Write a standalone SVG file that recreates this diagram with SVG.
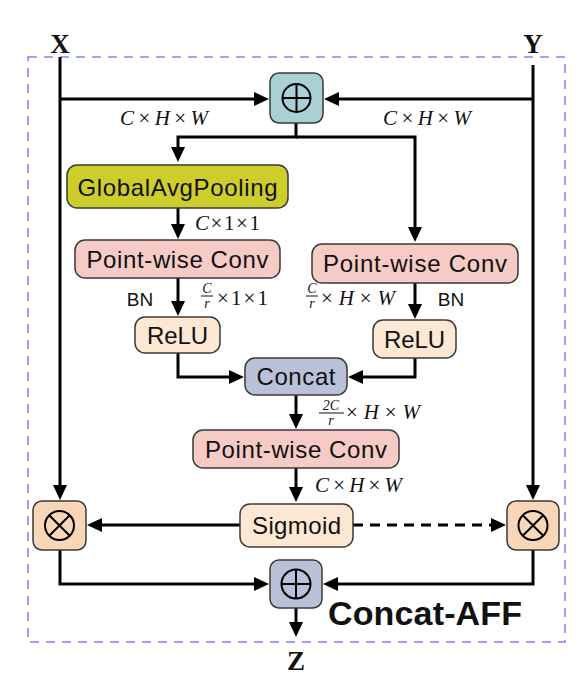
<svg xmlns="http://www.w3.org/2000/svg" width="586" height="691" viewBox="0 0 586 691">
<style>
.box{stroke:#3a3a3a;stroke-width:1.5}
.lbl{font-family:"Liberation Sans",Arial,sans-serif;font-size:24px;fill:#111;text-anchor:middle;dominant-baseline:central}
.bn{font-family:"Liberation Sans",Arial,sans-serif;font-size:19px;fill:#111;text-anchor:middle;dominant-baseline:central}
.math{font-family:"Liberation Serif","Times New Roman",serif;font-size:21px;fill:#111}
.mi{font-style:italic}
.frac{font-family:"Liberation Serif","Times New Roman",serif;font-size:14px;font-style:italic;fill:#111;text-anchor:middle}
.var{font-family:"Liberation Serif","Times New Roman",serif;font-weight:bold;font-size:27px;fill:#111;text-anchor:middle}
.con{fill:none;stroke:#000;stroke-width:3}
.sym{fill:none;stroke:#000;stroke-width:2}
</style>
<defs>
<marker id="ah" markerUnits="userSpaceOnUse" markerWidth="16" markerHeight="16" refX="1" refY="7" orient="auto">
<path d="M0,0 L15,7 L0,14 Z" fill="#000"/>
</marker>
</defs>

<rect x="28" y="57" width="537" height="585" fill="none" stroke="#8080ff" stroke-width="1.5" stroke-dasharray="9,7"/>

<g id="connectors">
<path class="con" d="M60,57 V486" marker-end="url(#ah)"/>
<path class="con" d="M533,65 V486" marker-end="url(#ah)"/>
<path class="con" d="M60,99 H255" marker-end="url(#ah)"/>
<path class="con" d="M533,99 H338" marker-end="url(#ah)"/>
<path class="con" d="M296,123 V137 H178 V148" marker-end="url(#ah)"/>
<path class="con" d="M296,137 H415 V228" marker-end="url(#ah)"/>
<path class="con" d="M178,208 V225" marker-end="url(#ah)"/>
<path class="con" d="M178,278 V302" marker-end="url(#ah)"/>
<path class="con" d="M178,353 V377 H230" marker-end="url(#ah)"/>
<path class="con" d="M415,283 V305" marker-end="url(#ah)"/>
<path class="con" d="M415,358 V377 H362" marker-end="url(#ah)"/>
<path class="con" d="M296,395 V415" marker-end="url(#ah)"/>
<path class="con" d="M296,468 V488" marker-end="url(#ah)"/>
<path class="con" d="M240,525 H101" marker-end="url(#ah)"/>
<path class="con" d="M353,525 H492" stroke-dasharray="10,7" marker-end="url(#ah)"/>
<path class="con" d="M60,550 V584 H255" marker-end="url(#ah)"/>
<path class="con" d="M533,550 V584 H337" marker-end="url(#ah)"/>
<path class="con" d="M296,608 V623" marker-end="url(#ah)"/>
</g>

<g id="labels">
<text class="var" x="60" y="53">X</text>
<text class="var" x="533" y="53">Y</text>
<text class="var" x="296" y="670">Z</text>
<text class="math" x="120" y="125" textLength="88"><tspan class="mi">C</tspan>×<tspan class="mi">H</tspan>×<tspan class="mi">W</tspan></text>
<text class="math" x="383" y="125" textLength="88"><tspan class="mi">C</tspan>×<tspan class="mi">H</tspan>×<tspan class="mi">W</tspan></text>
<text class="math" x="195" y="230" textLength="65"><tspan class="mi">C</tspan>×1×1</text>
<text class="bn" x="140" y="299">BN</text>
<text class="frac" x="207" y="293">C</text>
<line x1="201" y1="296" x2="213" y2="296" stroke="#111" stroke-width="1"/>
<text class="frac" x="207" y="308">r</text>
<text class="math" x="217" y="305" textLength="51">×1×1</text>
<text class="frac" x="312" y="293">C</text>
<line x1="306" y1="296" x2="318" y2="296" stroke="#111" stroke-width="1"/>
<text class="frac" x="312" y="308">r</text>
<text class="math" x="321" y="305" textLength="74">×<tspan class="mi">H</tspan>×<tspan class="mi">W</tspan></text>
<text class="bn" x="451" y="299">BN</text>
<text class="frac" x="331" y="410">2C</text>
<line x1="319" y1="413" x2="344" y2="413" stroke="#111" stroke-width="1"/>
<text class="frac" x="331" y="425">r</text>
<text class="math" x="346" y="419" textLength="74">×<tspan class="mi">H</tspan>×<tspan class="mi">W</tspan></text>
<text class="math" x="315" y="492" textLength="87"><tspan class="mi">C</tspan>×<tspan class="mi">H</tspan>×<tspan class="mi">W</tspan></text>
<text x="328" y="625" font-family="'Liberation Sans',Arial,sans-serif" font-weight="bold" font-size="34" fill="#111" textLength="194">Concat-AFF</text>
</g>

<g id="plus-top">
<rect class="box" x="270" y="73" width="53" height="50" rx="9" fill="#a9d0d4"/>
<circle class="sym" cx="296.5" cy="98" r="14"/>
<path class="sym" d="M282.5,98 H310.5 M296.5,84 V112"/>
</g>
<g id="gap">
<rect class="box" x="67" y="165" width="221" height="43" rx="10" fill="#cdcd2c"/>
<text class="lbl" x="177.5" y="187" textLength="200">GlobalAvgPooling</text>
</g>
<g id="pwconv-left">
<rect class="box" x="75" y="240" width="205" height="38" rx="10" fill="#f6cbc6"/>
<text class="lbl" x="177.5" y="259" textLength="182">Point-wise Conv</text>
</g>
<g id="relu-left">
<rect class="box" x="135" y="317" width="85" height="36" rx="10" fill="#fde8d3"/>
<text class="lbl" x="177.5" y="335" textLength="61">ReLU</text>
</g>
<g id="pwconv-right">
<rect class="box" x="312" y="244" width="206" height="39" rx="10" fill="#f6cbc6"/>
<text class="lbl" x="415" y="263.5" textLength="184">Point-wise Conv</text>
</g>
<g id="relu-right">
<rect class="box" x="373" y="320" width="83" height="38" rx="10" fill="#fde8d3"/>
<text class="lbl" x="414.5" y="339" textLength="61">ReLU</text>
</g>
<g id="concat">
<rect class="box" x="245" y="358" width="102" height="37" rx="10" fill="#b9c1d9"/>
<text class="lbl" x="296" y="376.5" textLength="79">Concat</text>
</g>
<g id="pwconv-mid">
<rect class="box" x="193" y="430" width="206" height="38" rx="10" fill="#f6cbc6"/>
<text class="lbl" x="296" y="449" textLength="182">Point-wise Conv</text>
</g>
<g id="sigmoid">
<rect class="box" x="240" y="504" width="113" height="43" rx="10" fill="#fde8d3"/>
<text class="lbl" x="296.5" y="525.5" textLength="89">Sigmoid</text>
</g>
<g id="otimes-left">
<rect class="box" x="33" y="501" width="53" height="49" rx="9" fill="#f8d6b8"/>
<circle class="sym" cx="59.5" cy="525.5" r="14.5"/>
<path class="sym" d="M49.25,515.25 L69.75,535.75 M69.75,515.25 L49.25,535.75"/>
</g>
<g id="otimes-right">
<rect class="box" x="507" y="501" width="52" height="49" rx="9" fill="#f8d6b8"/>
<circle class="sym" cx="533" cy="525.5" r="14.5"/>
<path class="sym" d="M522.75,515.25 L543.25,535.75 M543.25,515.25 L522.75,535.75"/>
</g>
<g id="plus-bottom">
<rect class="box" x="270" y="560" width="52" height="48" rx="9" fill="#b9c1d9"/>
<circle class="sym" cx="296" cy="584" r="14.5"/>
<path class="sym" d="M281.5,584 H310.5 M296,569.5 V598.5"/>
</g>
</svg>
